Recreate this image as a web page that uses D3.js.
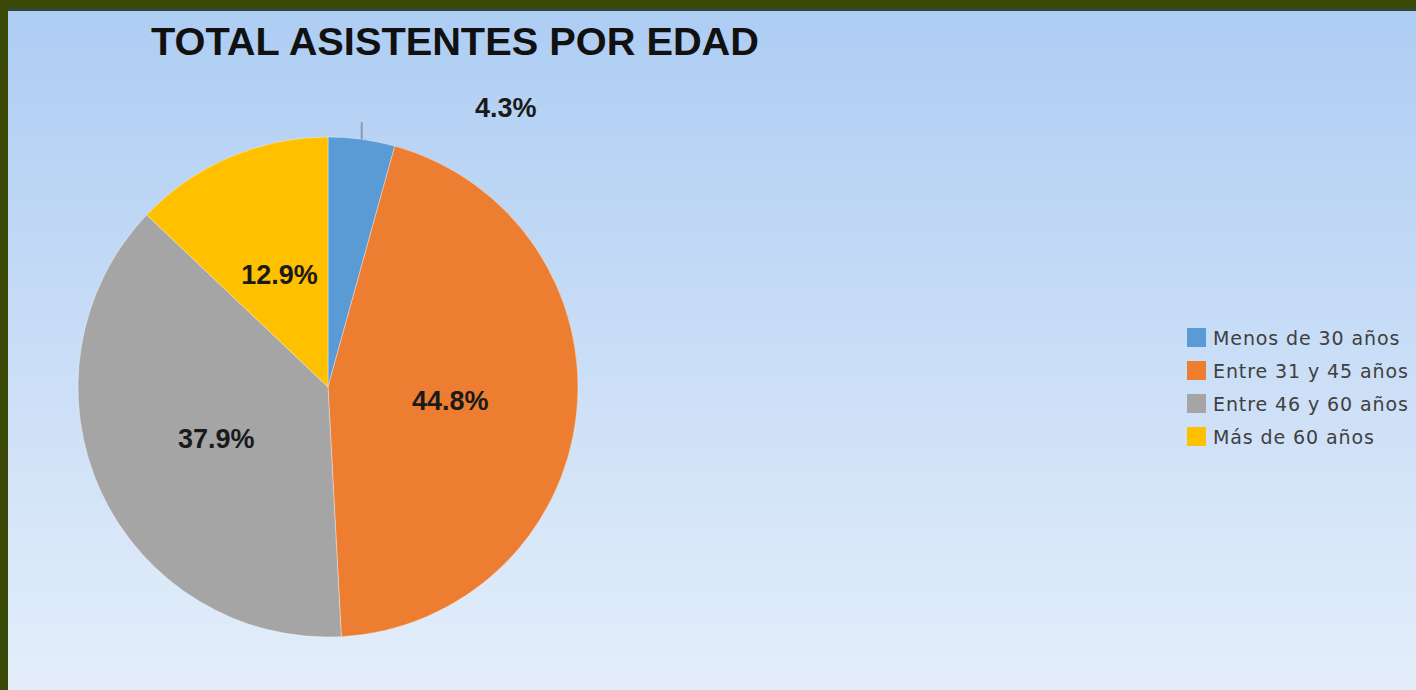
<!DOCTYPE html>
<html><head><meta charset="utf-8">
<script src="https://cdn.jsdelivr.net/npm/d3@7"></script>
<style>html,body{margin:0;padding:0;overflow:hidden;background:#3a4a06}</style>
</head><body>
<script>
const title = "TOTAL ASISTENTES POR EDAD";
const categories = ["Menos de 30 años", "Entre 31 y 45 años", "Entre 46 y 60 años", "Más de 60 años"];
const values = [4.3, 44.8, 37.9, 12.9];
const colors = ["#5b9bd5", "#ed7d31", "#a5a5a5", "#ffc000"];

const W = 1416, H = 690;
const svg = d3.select("body").append("svg").attr("width", W).attr("height", H);
const defs = svg.append("defs");
const grad = defs.append("linearGradient").attr("id", "bg").attr("x1", 0).attr("y1", 0).attr("x2", 0).attr("y2", 1);
grad.append("stop").attr("offset", "0%").attr("stop-color", "#aecdf3");
grad.append("stop").attr("offset", "100%").attr("stop-color", "#e4eefa");

svg.append("rect").attr("width", W).attr("height", H).attr("fill", "#3a4a06");
svg.append("rect").attr("x", 8).attr("y", 8).attr("width", W - 8).attr("height", H - 8).attr("fill", "#30473a");
svg.append("rect").attr("x", 8).attr("y", 11).attr("width", W - 8).attr("height", H - 11).attr("fill", "url(#bg)");

svg.append("text").attr("x", 151).attr("y", 55)
  .attr("font-family", "Liberation Sans, Arial, sans-serif").attr("font-weight", "bold")
  .attr("font-size", 38).attr("fill", "#111")
  .attr("textLength", 608).attr("lengthAdjust", "spacingAndGlyphs")
  .text(title);

const cx = 328, cy = 387, R = 250;
const g = svg.append("g").attr("transform", `translate(${cx},${cy})`);
const pie = d3.pie().sort(null).value(d => d)(values);
const arc = d3.arc().innerRadius(0).outerRadius(R);
const color = d3.scaleOrdinal().domain(categories).range(colors);

g.selectAll("path.slice").data(pie).enter().append("path")
  .attr("class", "slice")
  .attr("d", arc)
  .attr("fill", (d, i) => color(categories[i]))
  .attr("stroke", "#ffffff").attr("stroke-opacity", 0.5).attr("stroke-width", 0.7);

const lab = d3.arc().innerRadius(123).outerRadius(123);
const fmt = v => v.toFixed(1) + "%";

pie.forEach((d, i) => {
  const mid = (d.startAngle + d.endAngle) / 2;
  if (d.data < 6) {
    const px = R * Math.sin(mid), py = -R * Math.cos(mid);
    g.append("line").attr("x1", px).attr("y1", py).attr("x2", px).attr("y2", py - 17)
      .attr("stroke", "#8a9bb0").attr("stroke-width", 2);
    g.append("text").attr("x", px + 144).attr("y", py - 22)
      .attr("text-anchor", "middle")
      .attr("font-family", "Liberation Sans, Arial, sans-serif").attr("font-weight", "bold")
      .attr("font-size", 27).attr("fill", "#1a1a1a")
      .text(fmt(d.data));
  } else {
    const [x, y] = lab.centroid({startAngle: mid, endAngle: mid});
    g.append("text").attr("x", x).attr("y", y).attr("dy", "0.36em")
      .attr("text-anchor", "middle")
      .attr("font-family", "Liberation Sans, Arial, sans-serif").attr("font-weight", "bold")
      .attr("font-size", 27).attr("fill", "#1a1a1a")
      .text(fmt(d.data));
  }
});

const leg = svg.append("g").attr("transform", "translate(1187,328)");
const rows = leg.selectAll("g").data(categories).enter().append("g")
  .attr("transform", (d, i) => `translate(0,${i * 33})`);
rows.append("rect").attr("width", 19).attr("height", 19).attr("fill", d => color(d));
rows.append("text").attr("x", 26).attr("y", 10).attr("dy", "0.35em")
  .attr("font-family", "DejaVu Sans, sans-serif").attr("font-size", 19)
  .attr("letter-spacing", 0.9).attr("fill", "#404040")
  .text(d => d);
</script>
</body></html>
